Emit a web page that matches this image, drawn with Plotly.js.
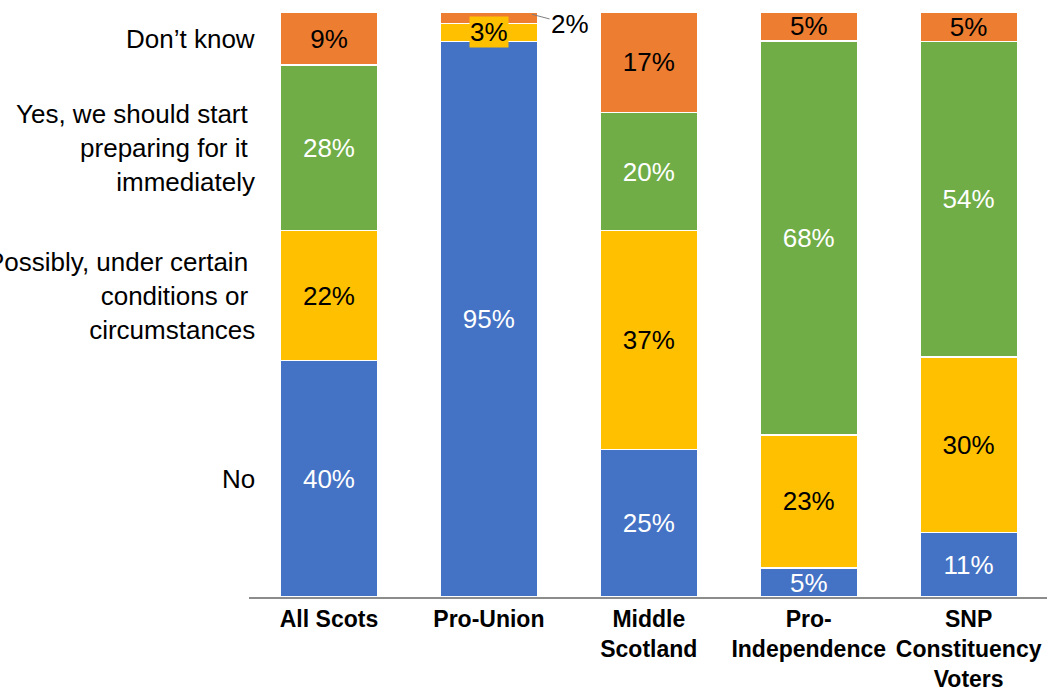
<!DOCTYPE html>
<html>
<head>
<meta charset="utf-8">
<script src="https://cdn.plot.ly/plotly-3.0.1.min.js"></script>
<style>
  html, body { margin: 0; padding: 0; background: #fff; }
  #chart { width: 1047px; height: 688px; }
</style>
</head>
<body>
<div id="chart"></div>
<script>
const categories = ["All Scots", "Pro-Union", "Middle<br>Scotland", "Pro-<br>Independence", "SNP<br>Constituency<br>Voters"];
const noVals = [40, 95, 25, 5, 11];
const possiblyVals = [22, 3, 37, 23, 30];
const yesVals = [28, 0, 20, 68, 54];
const dkVals = [9, 2, 17, 5, 5];

const seriesLabels = [
  "No",
  "Possibly, under certain\u00a0<br>conditions or\u00a0<br>circumstances",
  "Yes, we should start\u00a0<br>preparing for it\u00a0<br>immediately",
  "Don\u2019t know"
];
const seriesValues = [noVals, possiblyVals, yesVals, dkVals];
const colors = ["#4472C4", "#FFC000", "#70AD47", "#ED7D31"];
const textColors = ["#ffffff", "#000000", "#ffffff", "#000000"];

const FONT = "Liberation Sans, Arial, sans-serif";

const totals = categories.map((c, i) => seriesValues.reduce((s, arr) => s + arr[i], 0));

const data = seriesValues.map((vals, k) => ({
  type: "bar",
  x: categories,
  y: vals,
  name: seriesLabels[k],
  marker: { color: colors[k], line: { color: "#ffffff", width: 1.5 } },
  text: vals.map(v => (v >= 5 ? v + "%" : "")),
  textposition: "inside",
  insidetextanchor: "middle",
  textangle: 0,
  constraintext: "none",
  textfont: { family: FONT, size: 26, color: textColors[k] },
  hoverinfo: "skip"
}));

// segment centre (percent-normalised) for a category / series
function segCentre(i, k) {
  let below = 0;
  for (let j = 0; j < k; j++) below += seriesValues[j][i];
  return (below + seriesValues[k][i] / 2) / totals[i] * 100;
}
function segTop(i, k) {
  let below = 0;
  for (let j = 0; j <= k; j++) below += seriesValues[j][i];
  return below / totals[i] * 100;
}

const annotations = [];

// series labels to the left of the first bar
seriesLabels.forEach((lab, k) => {
  annotations.push({
    xref: "paper", yref: "y",
    x: 0.01, y: segCentre(0, k),
    xanchor: "right", yanchor: "middle",
    align: "right",
    text: lab,
    showarrow: false,
    font: { family: FONT, size: 26, color: "#000" }
  });
});

// small Pro-Union segments
annotations.push({
  x: 1, y: segCentre(1, 1),
  xref: "x", yref: "y",
  text: possiblyVals[1] + "%",
  showarrow: false,
  bgcolor: colors[1],
  borderpad: 0,
  font: { family: FONT, size: 26, color: "#000" }
});
annotations.push({
  x: 1.27, y: segTop(1, 3) - 0.4,
  xref: "x", yref: "y",
  text: dkVals[1] + "%",
  showarrow: true,
  arrowhead: 0,
  arrowwidth: 1,
  arrowcolor: "#7f7f7f",
  standoff: 0,
  ax: 38, ay: 10,
  font: { family: FONT, size: 26, color: "#000" }
});

const layout = {
  width: 1047,
  height: 688,
  margin: { l: 249, r: 0, t: 12, b: 91 },
  paper_bgcolor: "#ffffff",
  plot_bgcolor: "#ffffff",
  barmode: "stack",
  barnorm: "percent",
  bargap: 0.39,
  showlegend: false,
  xaxis: {
    type: "category",
    range: [-0.5, 4.49],
    showline: true,
    linecolor: "#8c8c8c",
    linewidth: 1.5,
    ticks: "",
    ticklabelstandoff: 1,
    showgrid: false,
    tickfont: { family: FONT, size: 23, color: "#000", weight: "bold" },
    fixedrange: true
  },
  yaxis: {
    range: [0, 100],
    visible: false,
    showgrid: false,
    zeroline: false,
    fixedrange: true
  },
  annotations: annotations,
  font: { family: FONT }
};

Plotly.newPlot("chart", data, layout, { displayModeBar: false, staticPlot: true });
</script>
</body>
</html>
